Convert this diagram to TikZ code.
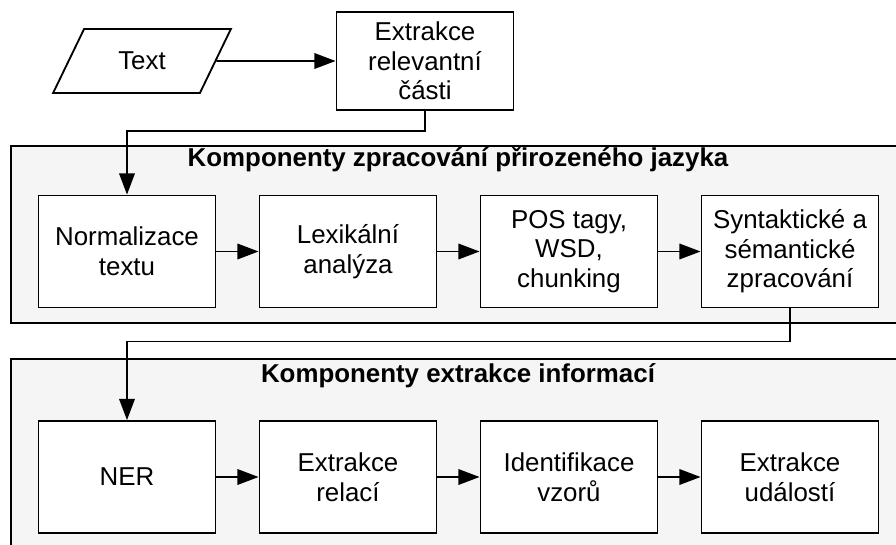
\documentclass[tikz,border=0pt]{standalone}
\usepackage{fontspec}
\setmainfont{Liberation Sans}
\usepackage{tikz}
\usetikzlibrary{positioning}
\usetikzlibrary{shapes.geometric}
\usetikzlibrary{arrows.meta}
\definecolor{panelfill}{HTML}{F5F5F5}

\begin{document}
\begin{tikzpicture}[x=0.025cm, y=-0.025cm, line width=1.3pt,
    every node/.style={font=\fontsize{18.4}{21}\selectfont, align=center},
    krok/.style={draw, fill=white, minimum width=4.425cm, minimum height=2.8cm, inner sep=2pt},
    panel/.style={draw, fill=panelfill},
    nadpis/.style={font=\fontsize{18.4}{21}\selectfont\bfseries},
    sip/.style={-{Triangle[length=15pt,width=11pt]}}]
            \useasboundingbox (0,0) rectangle (896,545);
            \clip (0,0) rectangle (896,545);

            % Panely
            \draw[panel] (11,146) rectangle (920,323);
            \draw[panel] (11,359) rectangle (920,580);
            \node[nadpis] (nlp) at (458,160) {Komponenty zpracování přirozeného jazyka};
            \node[nadpis] (ie) at (458,376) {Komponenty extrakce informací};

            % Uzly
            \node[draw, trapezium, trapezium left angle=61, trapezium right angle=119,
                  trapezium stretches=true, minimum width=4.45cm, minimum height=1.6cm] (text) at (142,61) {Text};
            \node[krok, minimum height=2.45cm] (extr) at (425,61) {Extrakce\\relevantní\\části};

            \node[krok] (norm) at (127,251.5) {Normalizace\\textu};
            \node[krok] (lex) at (348,251.5) {Lexikální\\analýza};
            \node[krok] (pos) at (569,251.5) {POS tagy,\\WSD,\\chunking};
            \node[krok] (sem) at (790,251.5) {Syntaktické a\\sémantické\\zpracování};

            \node[krok] (ner) at (127,477) {NER};
            \node[krok] (rel) at (348,477) {Extrakce\\relací};
            \node[krok] (vzor) at (569,477) {Identifikace\\vzorů};
            \node[krok] (udal) at (790,477) {Extrakce\\událostí};

            % Hrany
            \draw[sip] (text) -- (extr);
            \draw[sip] (extr.south) -- ++(0,20) -| (norm.north);
            \draw[sip] (norm) -- (lex);
            \draw[sip] (lex) -- (pos);
            \draw[sip] (pos) -- (sem);
            \draw[sip] (sem.south) -- ++(0,33) -| (ner.north);
            \draw[sip] (ner) -- (rel);
            \draw[sip] (rel) -- (vzor);
            \draw[sip] (vzor) -- (udal);
          \end{tikzpicture}
\end{document}
